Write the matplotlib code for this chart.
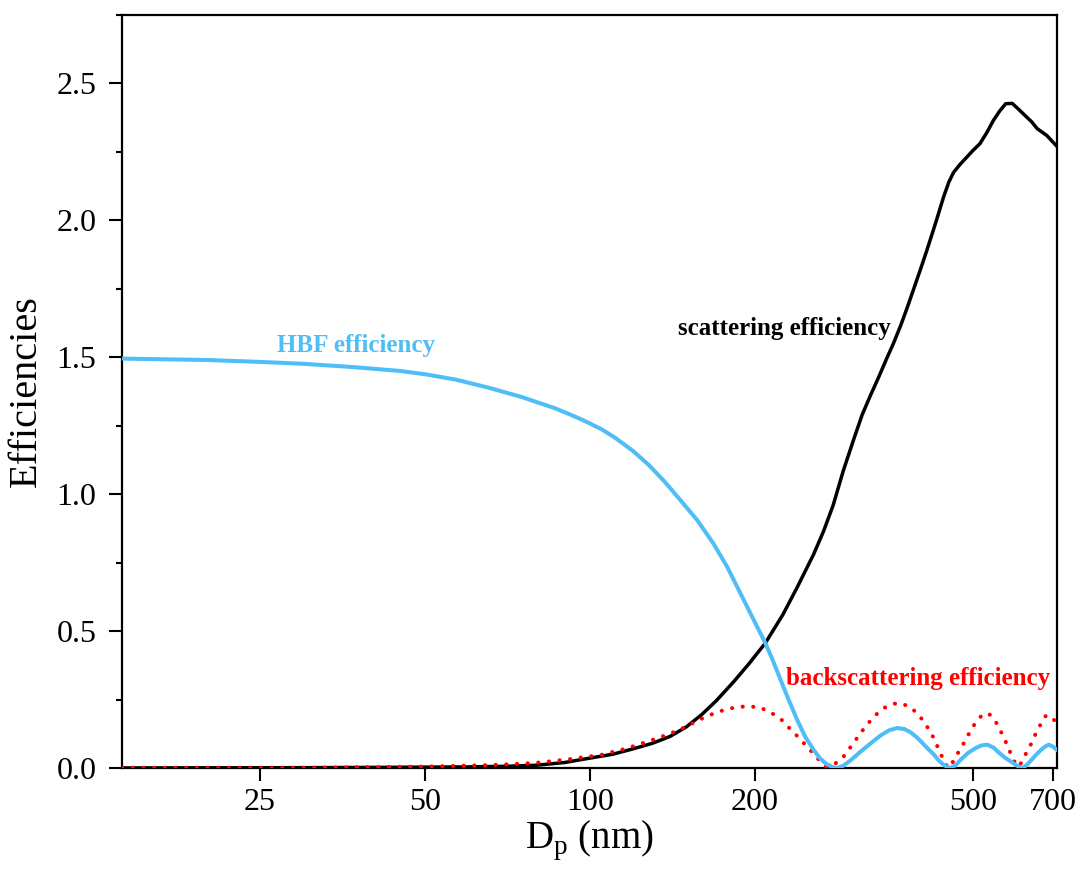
import matplotlib
matplotlib.use("Agg")
import matplotlib.pyplot as plt
from matplotlib.ticker import FixedLocator, NullLocator, MultipleLocator, FormatStrFormatter

# particle diameter (nm) and efficiencies, one pair of lists per curve
d_sca = [14, 20, 30, 40, 50, 60, 70, 80, 90, 100, 110, 120, 130, 140, 150, 160, 170, 183,
         195, 209, 225, 239, 256, 267, 278, 290, 303, 314, 325, 337, 348, 358, 369, 380,
         390, 401, 412, 429, 442, 452, 461, 474, 488, 500, 515, 530, 545, 560, 574, 590,
         610, 627, 640, 655, 682, 712]
q_sca = [0.0, 0.0005, 0.001, 0.002, 0.003, 0.004, 0.006, 0.01, 0.02, 0.036, 0.05, 0.07,
         0.09, 0.115, 0.15, 0.195, 0.245, 0.315, 0.38, 0.456, 0.56, 0.66, 0.78, 0.865,
         0.96, 1.085, 1.20, 1.29, 1.36, 1.43, 1.495, 1.55, 1.615, 1.685, 1.75, 1.82, 1.89,
         2.0, 2.085, 2.14, 2.175, 2.205, 2.232, 2.255, 2.28, 2.32, 2.365, 2.40, 2.426,
         2.427, 2.40, 2.377, 2.36, 2.335, 2.31, 2.27]

d_hbf = [14, 20, 25, 30, 37, 45, 50, 57, 65, 75, 86, 91, 96, 100, 105, 111, 120, 128, 137,
         146, 157, 168, 178, 188, 198, 209, 216, 223, 231, 239, 247, 256, 263, 270, 277,
         283, 290, 300, 310, 320, 330, 340, 352, 364, 375, 385, 395, 405, 414, 424, 432,
         440, 448, 455, 465, 475, 490, 505, 518, 531, 545, 555, 570, 585, 600, 608, 616,
         628, 640, 652, 665, 677, 688, 700, 712]
q_hbf = [1.495, 1.490, 1.483, 1.476, 1.464, 1.45, 1.438, 1.418, 1.39, 1.355, 1.315, 1.295,
         1.275, 1.258, 1.237, 1.207, 1.157, 1.107, 1.045, 0.98, 0.905, 0.82, 0.735, 0.64,
         0.55, 0.456, 0.39, 0.32, 0.245, 0.175, 0.115, 0.066, 0.035, 0.015, 0.003, 0.0,
         0.008, 0.03, 0.055, 0.078, 0.1, 0.12, 0.138, 0.146, 0.142, 0.13, 0.112, 0.09,
         0.07, 0.05, 0.03, 0.015, 0.004, 0.0, 0.01, 0.03, 0.055, 0.072, 0.082, 0.085,
         0.075, 0.06, 0.04, 0.025, 0.01, 0.003, 0.0, 0.012, 0.03, 0.048, 0.065, 0.078,
         0.085, 0.078, 0.066]

d_back = [14, 30, 50, 65, 79, 90, 105, 117, 129, 140, 148, 160, 171, 183, 194, 205, 217,
          224, 230, 236, 242, 249, 256, 263, 270, 280, 290, 300, 310, 320, 333, 345, 357,
          368, 382, 396, 410, 424, 437, 450, 459, 468, 478, 488, 499, 510, 521, 532, 541,
          550, 560, 569, 580, 591, 602, 611, 620, 632, 643, 654, 665, 673, 681, 695, 712]
q_back = [0.0, 0.001, 0.005, 0.01, 0.018, 0.03, 0.048, 0.072, 0.10, 0.125, 0.146, 0.18,
          0.205, 0.22, 0.226, 0.22, 0.195, 0.175, 0.15, 0.128, 0.105, 0.078, 0.052, 0.025,
          0.005, 0.015, 0.04, 0.08, 0.12, 0.157, 0.195, 0.22, 0.234, 0.237, 0.225, 0.20,
          0.16, 0.11, 0.05, 0.0, 0.02, 0.05, 0.08, 0.113, 0.148, 0.175, 0.195, 0.20, 0.19,
          0.17, 0.14, 0.113, 0.075, 0.035, 0.005, 0.015, 0.04, 0.07, 0.10, 0.135, 0.16,
          0.18, 0.193, 0.185, 0.165]

xticks = [25, 50, 100, 200, 500, 700]

blue = "#4FBDF6"
red = "#FF0000"

plt.rcParams["font.family"] = "Liberation Serif"

fig = plt.figure(figsize=(10.8, 8.71), dpi=100)
ax = fig.add_axes([0.113, 0.1183, 0.8657, 0.8645])

ax.plot(d_sca, q_sca, color="black", lw=2.5, zorder=3)
ax.plot(d_back, q_back, color=red, lw=2.9, linestyle=(0, (0.05, 2.6)),
        dash_capstyle="round", zorder=3)
ax.plot(d_hbf, q_hbf, color=blue, lw=2.9, zorder=4)

ax.set_xscale("log")
ax.set_xlim(14, 712)
ax.set_ylim(0, 2.75)

ax.xaxis.set_major_locator(FixedLocator(xticks))
ax.xaxis.set_minor_locator(NullLocator())
ax.set_xticklabels([str(t) for t in xticks])
ax.yaxis.set_major_locator(MultipleLocator(0.5))
ax.yaxis.set_minor_locator(MultipleLocator(0.25))
ax.yaxis.set_major_formatter(FormatStrFormatter("%.1f"))

ax.tick_params(which="major", direction="out", length=9.5, width=1.5, labelsize=23)
ax.tick_params(which="minor", direction="out", length=4.5, width=1.5)
ax.tick_params(axis="x", pad=5)
ax.tick_params(axis="y", pad=9)
ax.tick_params(top=False, right=False)
for s in ax.spines.values():
    s.set_linewidth(1.6)

ax.set_xlabel(r"D$_\mathregular{p}$ (nm)", fontsize=28, labelpad=1)
ax.set_ylabel("Efficiencies", fontsize=29, labelpad=8)

ax.text(26.9, 1.544, "HBF efficiency", color=blue, fontsize=18, fontweight="bold",
        va="center", ha="left")
ax.text(145, 1.606, "scattering efficiency", color="black", fontsize=18,
        fontweight="bold", va="center", ha="left")
ax.text(228, 0.328, "backscattering efficiency", color=red, fontsize=18,
        fontweight="bold", va="center", ha="left")

fig.savefig("out.png", dpi=100)
